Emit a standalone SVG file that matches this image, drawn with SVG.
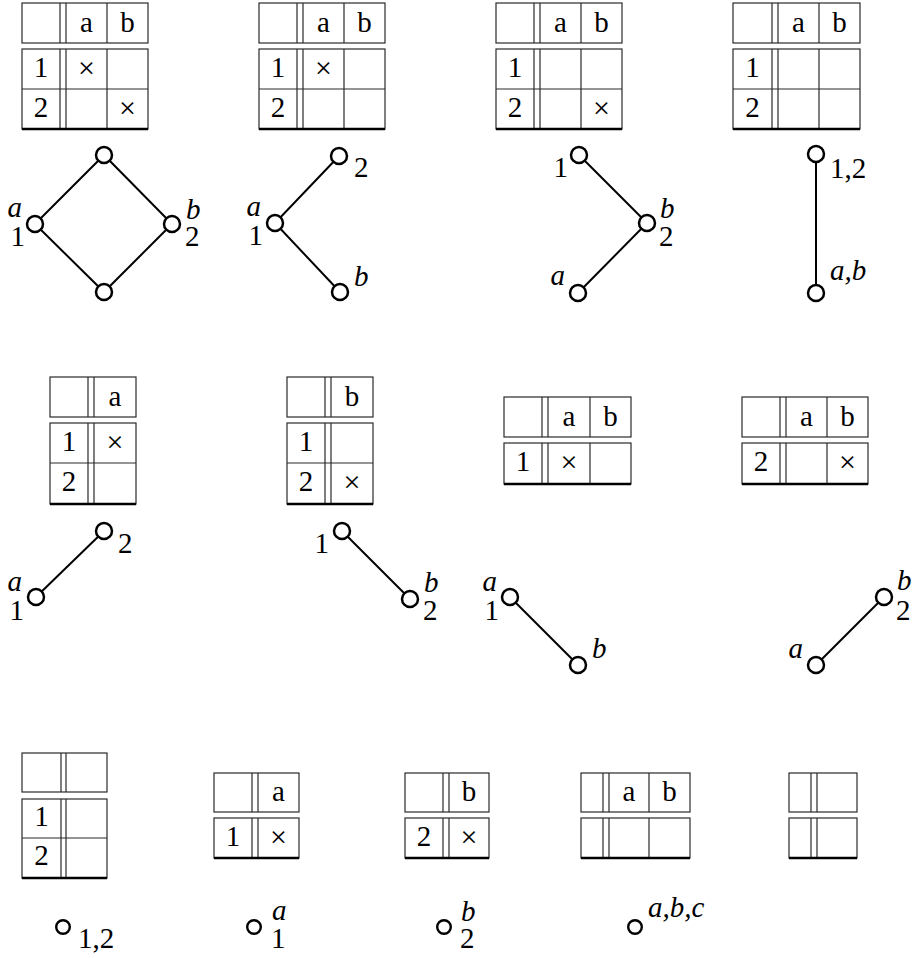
<svg xmlns="http://www.w3.org/2000/svg" width="914" height="958" viewBox="0 0 914 958">
<style>
.tb{fill:none;stroke:#2a2a2a;stroke-width:1.2}
.bt{fill:none;stroke:#000;stroke-width:2.4}
.e{stroke:#000;stroke-width:2}
.n{fill:#fff;stroke:#000;stroke-width:2.5}
.ns{fill:#fff;stroke:#000;stroke-width:2.4}
text{font-family:"Liberation Serif","DejaVu Serif",serif;font-size:29px;fill:#000}
.c{text-anchor:middle}
.x{text-anchor:middle;font-size:30px}
.i{font-style:italic}
.r{text-anchor:end}
</style>
<rect width="914" height="958" fill="#fff"/>

<!-- Row 1 tables -->
<g id="table-r1-1">
<rect class="tb" x="22" y="3" width="126" height="40"/><rect class="tb" x="22" y="49" width="126" height="80"/>
<path class="tb" d="M60 3V43M66 3V43M107 3V43M60 49V129M66 49V129M107 49V129M22 89H148"/>
<line class="bt" x1="22" y1="129" x2="148" y2="129"/>
<text class="c" x="86.5" y="32">a</text><text class="c" x="127.5" y="32">b</text>
<text class="c" x="41" y="77">1</text><text class="c" x="41" y="117">2</text>
<text class="x" x="86.5" y="78">×</text><text class="x" x="127.5" y="118">×</text>
</g>
<g id="table-r1-2">
<rect class="tb" x="259" y="3" width="126" height="40"/><rect class="tb" x="259" y="49" width="126" height="80"/>
<path class="tb" d="M297 3V43M303 3V43M344 3V43M297 49V129M303 49V129M344 49V129M259 89H385"/>
<line class="bt" x1="259" y1="129" x2="385" y2="129"/>
<text class="c" x="323.5" y="32">a</text><text class="c" x="364.5" y="32">b</text>
<text class="c" x="278" y="77">1</text><text class="c" x="278" y="117">2</text>
<text class="x" x="323.5" y="78">×</text>
</g>
<g id="table-r1-3">
<rect class="tb" x="496" y="3" width="126" height="40"/><rect class="tb" x="496" y="49" width="126" height="80"/>
<path class="tb" d="M534 3V43M540 3V43M581 3V43M534 49V129M540 49V129M581 49V129M496 89H622"/>
<line class="bt" x1="496" y1="129" x2="622" y2="129"/>
<text class="c" x="560.5" y="32">a</text><text class="c" x="601.5" y="32">b</text>
<text class="c" x="515" y="77">1</text><text class="c" x="515" y="117">2</text>
<text class="x" x="601.5" y="118">×</text>
</g>
<g id="table-r1-4">
<rect class="tb" x="733" y="3" width="127" height="40"/><rect class="tb" x="733" y="49" width="127" height="80"/>
<path class="tb" d="M772 3V43M778 3V43M819 3V43M772 49V129M778 49V129M819 49V129M733 89H860"/>
<line class="bt" x1="733" y1="129" x2="860" y2="129"/>
<text class="c" x="798.5" y="32">a</text><text class="c" x="839.5" y="32">b</text>
<text class="c" x="752.5" y="77">1</text><text class="c" x="752.5" y="117">2</text>
</g>

<!-- Row 2 tables -->
<g id="table-r2-1">
<rect class="tb" x="50" y="377" width="86" height="40"/><rect class="tb" x="50" y="423" width="86" height="81"/>
<path class="tb" d="M88 377V417M94 377V417M88 423V504M94 423V504M50 463H136"/>
<line class="bt" x1="50" y1="504" x2="136" y2="504"/>
<text class="c" x="115" y="406">a</text>
<text class="c" x="69" y="451">1</text><text class="c" x="69" y="491">2</text>
<text class="x" x="115" y="452">×</text>
</g>
<g id="table-r2-2">
<rect class="tb" x="287" y="377" width="86" height="40"/><rect class="tb" x="287" y="423" width="86" height="81"/>
<path class="tb" d="M325 377V417M331 377V417M325 423V504M331 423V504M287 463H373"/>
<line class="bt" x1="287" y1="504" x2="373" y2="504"/>
<text class="c" x="352" y="406">b</text>
<text class="c" x="306" y="451">1</text><text class="c" x="306" y="491">2</text>
<text class="x" x="352" y="492">×</text>
</g>
<g id="table-r2-3">
<rect class="tb" x="504" y="397" width="127" height="40"/><rect class="tb" x="504" y="443" width="127" height="41"/>
<path class="tb" d="M542 397V437M548 397V437M590 397V437M542 443V484M548 443V484M590 443V484"/>
<line class="bt" x1="504" y1="484" x2="631" y2="484"/>
<text class="c" x="569" y="426">a</text><text class="c" x="610.5" y="426">b</text>
<text class="c" x="523" y="471">1</text>
<text class="x" x="569" y="472">×</text>
</g>
<g id="table-r2-4">
<rect class="tb" x="742" y="397" width="126" height="40"/><rect class="tb" x="742" y="443" width="126" height="41"/>
<path class="tb" d="M780 397V437M786 397V437M827 397V437M780 443V484M786 443V484M827 443V484"/>
<line class="bt" x1="742" y1="484" x2="868" y2="484"/>
<text class="c" x="806.5" y="426">a</text><text class="c" x="847.5" y="426">b</text>
<text class="c" x="761" y="471">2</text>
<text class="x" x="847.5" y="472">×</text>
</g>

<!-- Row 3 tables -->
<g id="table-r3-1">
<rect class="tb" x="22" y="753" width="85" height="39"/><rect class="tb" x="22" y="799" width="85" height="79"/>
<path class="tb" d="M61 753V792M66 753V792M61 799V878M66 799V878M22 838H107"/>
<line class="bt" x1="22" y1="878" x2="107" y2="878"/>
<text class="c" x="41.5" y="826">1</text><text class="c" x="41.5" y="865">2</text>
</g>
<g id="table-r3-2">
<rect class="tb" x="214" y="773" width="85" height="39"/><rect class="tb" x="214" y="818" width="85" height="40"/>
<path class="tb" d="M252 773V812M258 773V812M252 818V858M258 818V858"/>
<line class="bt" x1="214" y1="858" x2="299" y2="858"/>
<text class="c" x="278.5" y="801">a</text>
<text class="c" x="233" y="846">1</text>
<text class="x" x="278.5" y="847">×</text>
</g>
<g id="table-r3-3">
<rect class="tb" x="405" y="773" width="84" height="39"/><rect class="tb" x="405" y="818" width="84" height="40"/>
<path class="tb" d="M443 773V812M449 773V812M443 818V858M449 818V858"/>
<line class="bt" x1="405" y1="858" x2="489" y2="858"/>
<text class="c" x="469" y="801">b</text>
<text class="c" x="424" y="846">2</text>
<text class="x" x="469" y="847">×</text>
</g>
<g id="table-r3-4">
<rect class="tb" x="581" y="773" width="109" height="39"/><rect class="tb" x="581" y="818" width="109" height="40"/>
<path class="tb" d="M603 773V812M609 773V812M649 773V812M603 818V858M609 818V858M649 818V858"/>
<line class="bt" x1="581" y1="858" x2="690" y2="858"/>
<text class="c" x="629" y="801">a</text><text class="c" x="669.5" y="801">b</text>
</g>
<g id="table-r3-5">
<rect class="tb" x="789" y="773" width="68" height="39"/><rect class="tb" x="789" y="818" width="68" height="40"/>
<path class="tb" d="M811 773V812M817 773V812M811 818V858M817 818V858"/>
<line class="bt" x1="789" y1="858" x2="857" y2="858"/>
</g>

<!-- Connectors -->
<g id="connectors">
<path class="e" d="M104 155L35 224L104 292L172 224Z" fill="none"/>
<path class="e" d="M339 156L275 223L340 292" fill="none"/>
<path class="e" d="M579 155L647 223L578 293" fill="none"/>
<line class="e" x1="816" y1="154" x2="816" y2="293"/>
<line class="e" x1="104" y1="531" x2="36" y2="597"/>
<line class="e" x1="342" y1="531" x2="410" y2="599"/>
<line class="e" x1="510" y1="597" x2="578" y2="665"/>
<line class="e" x1="816" y1="665" x2="884" y2="597"/>
</g>

<!-- Row 1 graph nodes -->
<g id="g1-top"><circle class="n" cx="104" cy="155" r="8"/></g>
<g id="g1-left"><circle class="n" cx="35" cy="224" r="8"/><text class="r i" x="22" y="217">a</text><text class="r" x="25" y="246">1</text></g>
<g id="g1-right"><circle class="n" cx="172" cy="224" r="8"/><text class="i" x="186" y="219">b</text><text x="185" y="246">2</text></g>
<g id="g1-bottom"><circle class="n" cx="104" cy="292" r="8"/></g>

<g id="g2-top"><circle class="n" cx="339" cy="156" r="8"/><text x="354" y="177">2</text></g>
<g id="g2-left"><circle class="n" cx="275" cy="223" r="8"/><text class="r i" x="261" y="216">a</text><text class="r" x="263" y="245">1</text></g>
<g id="g2-bottom"><circle class="n" cx="340" cy="292" r="8"/><text class="i" x="354" y="286">b</text></g>

<g id="g3-top"><circle class="n" cx="579" cy="155" r="8"/><text class="r" x="568" y="177">1</text></g>
<g id="g3-right"><circle class="n" cx="647" cy="223" r="8"/><text class="i" x="660" y="218">b</text><text x="659" y="246">2</text></g>
<g id="g3-bottom"><circle class="n" cx="578" cy="293" r="8"/><text class="r i" x="565" y="285">a</text></g>

<g id="g4-top"><circle class="n" cx="816" cy="154" r="8"/><text x="830" y="178">1,2</text></g>
<g id="g4-bottom"><circle class="n" cx="816" cy="293" r="8"/><text class="i" x="830" y="280">a,b</text></g>

<!-- Row 2 graph nodes -->
<g id="g5-top"><circle class="n" cx="104" cy="531" r="8"/><text x="118" y="553">2</text></g>
<g id="g5-bottom"><circle class="n" cx="36" cy="597" r="8"/><text class="r i" x="22" y="591">a</text><text class="r" x="24" y="620">1</text></g>

<g id="g6-top"><circle class="n" cx="342" cy="531" r="8"/><text class="r" x="329" y="553">1</text></g>
<g id="g6-bottom"><circle class="n" cx="410" cy="599" r="8"/><text class="i" x="424" y="592">b</text><text x="423" y="620">2</text></g>

<g id="g7-top"><circle class="n" cx="510" cy="597" r="8"/><text class="r i" x="497" y="591">a</text><text class="r" x="499" y="620">1</text></g>
<g id="g7-bottom"><circle class="n" cx="578" cy="665" r="8"/><text class="i" x="592" y="658">b</text></g>

<g id="g8-bottom"><circle class="n" cx="816" cy="665" r="8"/><text class="r i" x="803" y="658">a</text></g>
<g id="g8-top"><circle class="n" cx="884" cy="597" r="8"/><text class="i" x="897" y="590">b</text><text x="896" y="620">2</text></g>

<!-- Row 3 nodes -->
<g id="g9"><circle class="ns" cx="63" cy="927" r="6.8"/><text x="78" y="948">1,2</text></g>
<g id="g10"><circle class="ns" cx="254" cy="927" r="6.8"/><text class="i" x="272" y="920">a</text><text x="271" y="948">1</text></g>
<g id="g11"><circle class="ns" cx="444" cy="927" r="6.8"/><text class="i" x="461" y="921">b</text><text x="460" y="948">2</text></g>
<g id="g12"><circle class="ns" cx="635" cy="927" r="6.8"/><text class="i" x="648" y="917">a,b,c</text></g>
</svg>
